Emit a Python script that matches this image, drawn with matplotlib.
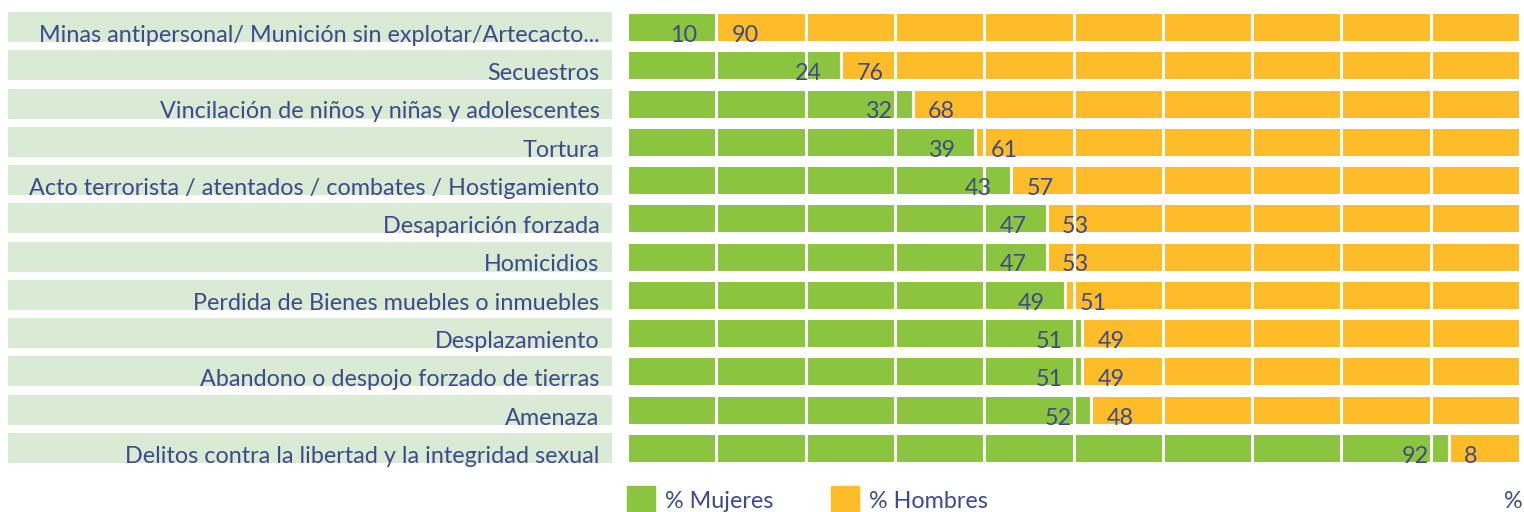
import matplotlib.pyplot as plt
from matplotlib.patches import Rectangle
import numpy as np

plt.rcParams['font.family'] = ['Lato', 'DejaVu Sans']

# Data
categorias = [
    'Minas antipersonal/ Munición sin explotar/Artecacto...',
    'Secuestros',
    'Vincilación de niños y niñas y adolescentes',
    'Tortura',
    'Acto terrorista / atentados / combates / Hostigamiento',
    'Desaparición forzada',
    'Homicidios',
    'Perdida de Bienes muebles o inmuebles',
    'Desplazamiento',
    'Abandono o despojo forzado de tierras',
    'Amenaza',
    'Delitos contra la libertad y la integridad sexual',
]
mujeres = [10, 24, 32, 39, 43, 47, 47, 49, 51, 51, 52, 92]
hombres = [90, 76, 68, 61, 57, 53, 53, 51, 49, 49, 48, 8]

verde = '#8bc53f'
naranja = '#fdbc28'
banda = '#d9ead5'
texto = '#3f4a8a'
fs = 16.8

W, H = 1524, 512
fig = plt.figure(figsize=(W / 100, H / 100), dpi=100)

# pixel layout of the plot regions
top, bottom = 12, 463
n = len(categorias)
half = 0.392
ax = fig.add_axes([627 / W, 1 - bottom / H, (1520 - 627) / W, (bottom - top) / H])
axl = fig.add_axes([8 / W, 1 - bottom / H, (612 - 8) / W, (bottom - top) / H])

y = np.arange(n)
ax.barh(y, mujeres, height=2 * half, color=verde, edgecolor='white', linewidth=2.2)
ax.barh(y, hombres, left=mujeres, height=2 * half, color=naranja, edgecolor='white', linewidth=2.2)

# white vertical grid lines every 10 %
for g in range(10, 100, 10):
    ax.axvline(g, color='white', linewidth=2.2, zorder=3)

for i in range(n):
    ax.annotate(str(mujeres[i]), (mujeres[i], i), xytext=(-14, -6), textcoords='offset points',
                ha='right', va='center', color=texto, fontsize=fs, zorder=4)
    ax.annotate(str(hombres[i]), (mujeres[i], i), xytext=(11, -6), textcoords='offset points',
                ha='left', va='center', color=texto, fontsize=fs, zorder=4)

ax.set_xlim(0, 100)
ax.set_ylim(n - 1 + half, -half)
ax.axis('off')

# category label bands
axl.barh(y, [1] * n, height=2 * half, color=banda)
for i, c in enumerate(categorias):
    axl.annotate(c, (1, i), xytext=(-9, -6), textcoords='offset points',
                 ha='right', va='center', color=texto, fontsize=fs)
axl.set_xlim(0, 1)
axl.set_ylim(n - 1 + half, -half)
axl.axis('off')

# legend at the bottom
fig.patches.append(Rectangle((627 / W, 0), 28 / W, 26 / H, transform=fig.transFigure,
                             color=verde, figure=fig))
fig.text(665 / W, 10 / H, '% Mujeres', color=texto, fontsize=fs, va='center')
fig.patches.append(Rectangle((831 / W, 0), 28 / W, 26 / H, transform=fig.transFigure,
                             color=naranja, figure=fig))
fig.text(869 / W, 10 / H, '% Hombres', color=texto, fontsize=fs, va='center')
fig.text(1523 / W, 10 / H, '%', color=texto, fontsize=fs, va='center', ha='right')

fig.savefig('out.png', dpi=100)
